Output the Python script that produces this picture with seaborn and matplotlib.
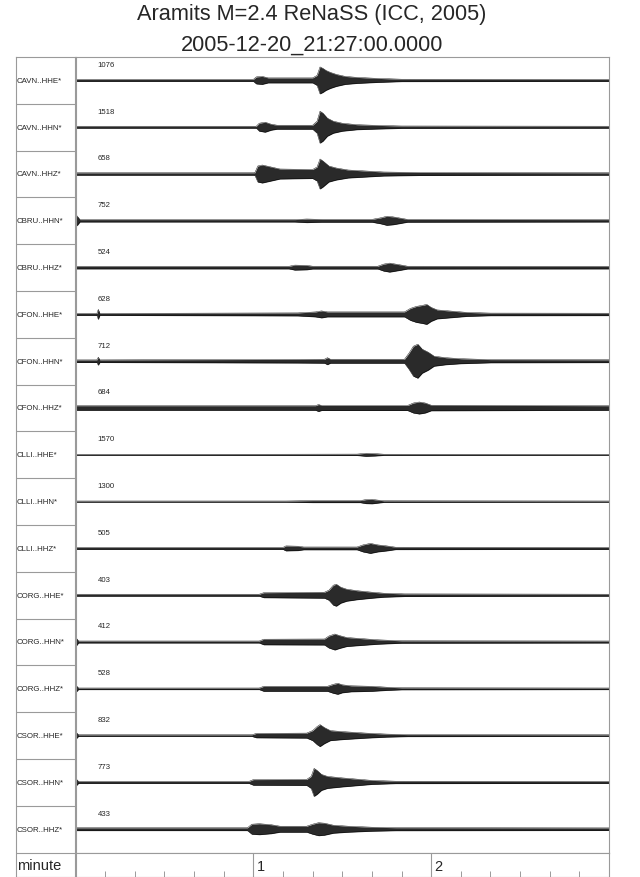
import matplotlib
matplotlib.use("Agg")
import matplotlib.pyplot as plt
import pandas as pd
import seaborn as sns

# Stations / channels, top to bottom.
stations = [
    "CAVN..HHE*", "CAVN..HHN*", "CAVN..HHZ*",
    "CBRU..HHN*", "CBRU..HHZ*",
    "CFON..HHE*", "CFON..HHN*", "CFON..HHZ*",
    "CLLI..HHE*", "CLLI..HHN*", "CLLI..HHZ*",
    "CORG..HHE*", "CORG..HHN*", "CORG..HHZ*",
    "CSOR..HHE*", "CSOR..HHN*", "CSOR..HHZ*",
]
# Max counts printed above each trace.
peak_counts = [1076, 1518, 658, 752, 524, 628, 712, 684, 1570, 1300,
               505, 403, 412, 528, 832, 773, 433]

# Envelope of each trace:
# times in seconds after 21:27:00, half-amplitude in pixels.
env_t = [
    [0, 60, 61, 63, 65, 80, 81.5, 82.5, 83.5, 84.5, 86, 88, 91, 95, 102, 110, 180],
    [0, 61, 62, 64, 66, 68, 80, 81.5, 82.5, 83.5, 85, 87, 90, 95, 102, 110, 180],
    [0, 60.5, 61.5, 63, 66, 69, 80, 81.5, 82.5, 83.5, 85.5, 88, 92, 98, 104, 116, 180],
    [0, 0.5, 1.5, 74, 78, 83, 100, 103, 105, 107, 109, 112, 180],
    [0, 72, 74, 78, 80, 102, 104, 106, 108, 110, 112, 180],
    [0, 7.2, 7.7, 8.2, 75, 81, 83, 85, 111, 113, 115, 117, 118.5, 120, 122, 126, 132, 140, 180],
    [0, 7.2, 7.7, 8.2, 75, 84, 85, 86, 111, 112.5, 114, 115.5, 117, 119, 121, 125, 130, 140, 180],
    [0, 81, 82, 83, 112, 114, 116, 118, 120, 180],
    [0, 70, 95, 98, 101, 104, 180],
    [0, 71, 80, 96, 98, 100, 102, 104, 180],
    [0, 70, 71, 75, 77, 95, 97, 99.5, 102, 105, 108, 180],
    [0, 62, 63.5, 84, 85.5, 87, 88, 89.5, 91.5, 95, 100, 104, 111, 180],
    [0, 0.4, 1, 62, 63.5, 84, 85.5, 87.5, 89, 91.5, 96, 102, 110, 180],
    [0, 0.4, 1, 62, 63.5, 85, 87, 88.5, 90, 93, 100, 105, 110, 180],
    [0, 0.4, 1, 59.5, 61, 78, 80, 81.5, 82.5, 84, 86, 90, 98, 105, 112, 180],
    [0, 0.4, 1, 58.5, 60, 78, 79.5, 80.5, 81.5, 83, 85, 90, 96, 100, 108, 180],
    [0, 58, 59.5, 62, 66, 69, 78, 80, 82, 84, 87, 92, 100, 108, 180],
]
env_a = [
    [1, 1, 3.5, 4, 2.5, 2.5, 5, 13.5, 12, 10, 8, 6, 4, 3, 2, 1.2, 1],
    [1, 1, 4, 5, 3, 2, 2, 6, 16, 14, 9, 6, 4, 2.5, 1.8, 1.2, 1],
    [1.2, 1.2, 8, 9, 7, 5, 4.5, 7, 15, 13, 8, 6, 4, 3, 2, 1.5, 1.2],
    [1, 5, 1.2, 1.2, 1.8, 1.4, 1.4, 3, 4.5, 4, 3, 1.4, 1.2],
    [1.3, 1.3, 2.5, 2.2, 1.4, 1.4, 3.5, 4.5, 3.5, 2.5, 1.4, 1.3],
    [1, 1, 5, 1, 1.5, 2.5, 3.5, 2.5, 2.5, 6, 8, 9, 10, 7, 4.5, 3.5, 2, 1.3, 1.2],
    [1.3, 1.3, 4, 1.3, 1.8, 2, 3.5, 2, 2, 8, 15, 17, 12, 9, 5, 3.5, 2.5, 1.6, 1.4],
    [2.3, 2.3, 3.5, 2.5, 2.5, 5, 6, 5, 2.8, 2.3],
    [0.5, 0.6, 0.7, 1.5, 1.2, 0.6, 0.5],
    [0.6, 0.6, 1, 1, 2, 2.2, 1.5, 0.8, 0.6],
    [1, 1, 2.5, 2.2, 1.4, 1.4, 3.5, 5, 3.5, 2.5, 1.2, 1],
    [1, 1, 2.5, 3, 5, 10, 11, 8, 6, 4.5, 3, 2, 1.3, 1],
    [1, 3.5, 1, 1, 2.8, 3, 6, 8, 6.5, 4.5, 3.5, 2.2, 1.2, 1],
    [0.8, 2.8, 0.8, 0.8, 2.5, 2.5, 4.5, 5.5, 4, 3, 2.5, 1.6, 1, 0.8],
    [0.8, 2.8, 0.8, 0.8, 2.2, 2.5, 5, 9, 11, 8, 5, 4, 2.5, 1.5, 1, 0.8],
    [1, 3, 1, 1, 2.8, 3, 6, 14, 12, 8, 6, 4.5, 3, 2, 1.2, 1],
    [1.4, 1.4, 5, 5.5, 4.5, 3, 3, 5, 6.5, 6, 4, 3, 2, 1.5, 1.3],
]

title_lines = ["Aramits M=2.4 ReNaSS (ICC, 2005)", "2005-12-20_21:27:00.0000"]

sns.set_theme(style="white")
plt.rcParams["font.family"] = ["Liberation Sans", "DejaVu Sans"]

W, H = 640, 878
ROW = 46.8          # pixel height of one trace row
GREY = "#9a9a9a"
n = len(stations)

# Long table of envelope points.
recs = []
for i, (name, ts, amps) in enumerate(zip(stations, env_t, env_a)):
    base = (i + 0.5) * ROW
    for t, a in zip(ts, amps):
        recs.append({"station": name, "time": t, "upper": base - a, "lower": base + a})
df = pd.DataFrame(recs)

fig = plt.figure(figsize=(W / 100, H / 100), dpi=100)

x0, x1 = 75.5, 609          # trace area, pixels
y_top, y_sep, y_bot = 58, 58 + n * ROW, 877.5

def frac(l, r, top, bot):
    return [l / W, 1 - bot / H, (r - l) / W, (bot - top) / H]

# Traces.
ax = fig.add_axes(frac(x0, x1, y_top, y_sep))
for name, g in df.groupby("station", sort=False):
    ax.fill_between(g["time"], g["upper"], g["lower"], color="#2a2a2a", lw=0)
sns.lineplot(data=df, x="time", y="upper", units="station", estimator=None,
             color="black", lw=0.3, ax=ax, legend=False)
sns.lineplot(data=df, x="time", y="lower", units="station", estimator=None,
             color="black", lw=0.3, ax=ax, legend=False)
for i, c in enumerate(peak_counts):
    ax.text(7.4, (i + 0.5) * ROW - 16, str(c), fontsize=5.6, va="center", ha="left")
ax.set_xlim(0, 180)
ax.set_ylim(n * ROW, 0)
ax.set_xticks([])
ax.set_yticks([])
ax.set_xlabel("")
ax.set_ylabel("")
for s in ax.spines.values():
    s.set_color(GREY)
    s.set_linewidth(0.8)

# Station label column.
ax_lab = fig.add_axes(frac(15.7, x0, y_top, y_bot))
ax_lab.set_xlim(0, 1)
ax_lab.set_ylim(y_bot - y_top, 0)
ax_lab.hlines([k * ROW for k in range(1, n + 1)], 0, 1, color=GREY, lw=0.8)
for i, name in enumerate(stations):
    ax_lab.text(0.02, (i + 0.5) * ROW, name, fontsize=5.7, va="center", ha="left")
ax_lab.text(0.02, (n * ROW + (y_bot - y_top)) / 2, "minute", fontsize=10.5,
            va="center", ha="left")
ax_lab.set_xticks([])
ax_lab.set_yticks([])
for s in ax_lab.spines.values():
    s.set_color(GREY)
    s.set_linewidth(0.8)

# Time axis row.
ax_t = fig.add_axes(frac(x0, x1, y_sep, y_bot))
ax_t.set_xlim(0, 180)
ax_t.set_ylim(0, 1)
ax_t.vlines([60, 120], 0, 1, color=GREY, lw=0.8)
for m in (1, 2):
    ax_t.text(m * 60 + 1.2, 0.45, str(m), fontsize=10.5, va="center", ha="left")
ax_t.set_xticks([t for t in range(10, 180, 10) if t % 60], minor=True)
ax_t.set_xticks([])
ax_t.set_yticks([])
ax_t.tick_params(axis="x", which="minor", direction="in", length=4,
                 width=0.7, color=GREY, bottom=True, top=False)
for s in ax_t.spines.values():
    s.set_color(GREY)
    s.set_linewidth(0.8)

fig.text(312 / W, 1 - 19.8 / H, title_lines[0], fontsize=15.7, ha="center", va="baseline")
fig.text(312 / W, 1 - 50.6 / H, title_lines[1], fontsize=15.7, ha="center", va="baseline")

fig.savefig("out.png", dpi=100)
